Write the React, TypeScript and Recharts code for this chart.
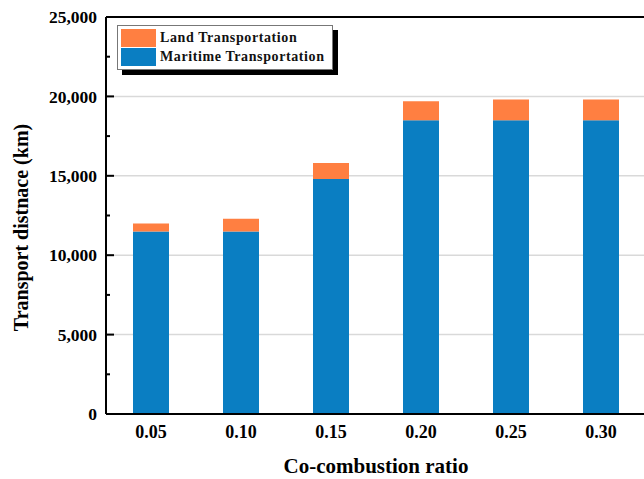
import { BarChart, Bar, XAxis, YAxis, ReferenceLine, CartesianGrid, Label } from "recharts";

const RATIOS = ["0.05", "0.10", "0.15", "0.20", "0.25", "0.30"];
const MARITIME_KM = [11500, 11500, 14800, 18500, 18500, 18500];
const LAND_KM = [500, 800, 1000, 1200, 1300, 1300];

const Y_TICKS = [0, 2500, 5000, 7500, 10000, 12500, 15000, 17500, 20000, 22500, 25000];
const GRID_VALUES = [5000, 10000, 15000, 20000];

const BLUE = "#0a7ec2";
const ORANGE = "#ff7f41";
const SERIF = '"Liberation Serif", "Times New Roman", serif';

// legend lists land first, the stack draws maritime at the bottom
const SERIES = [
  { key: "land", name: "Land Transportation", color: ORANGE },
  { key: "maritime", name: "Maritime Transportation", color: BLUE }
];

const data = RATIOS.map((ratio, i) => ({
  ratio,
  maritime: MARITIME_KM[i],
  land: LAND_KM[i]
}));

function YTick(props: any) {
  const { x, y, payload } = props;
  const major = payload.value % 5000 === 0;
  const axisX = x + 9;
  return (
    <g>
      <line x1={axisX} x2={axisX + (major ? 8 : 4)} y1={y} y2={y} stroke="#000" strokeWidth={2} />
      {major && (
        <text
          x={x}
          y={y}
          dy="0.35em"
          textAnchor="end"
          fontFamily={SERIF}
          fontWeight="bold"
          fontSize={17.5}
          fill="#000"
        >
          {payload.value.toLocaleString("en-US")}
        </text>
      )}
    </g>
  );
}

// vertical title, sitting a little below the plot's middle
function YTitle(props: any) {
  const { viewBox } = props;
  const cx = viewBox.x + 21;
  const cy = viewBox.y + viewBox.height / 2 + 12;
  return (
    <text
      x={cx}
      y={cy}
      dy="0.35em"
      transform={`rotate(-90, ${cx}, ${cy})`}
      textAnchor="middle"
      fontFamily={SERIF}
      fontWeight="bold"
      fontSize={20}
      fill="#000"
    >
      Transport distnace (km)
    </text>
  );
}

function LegendBox() {
  return (
    <div
      style={{
        position: "absolute",
        left: 117,
        top: 25,
        border: "1px solid #777",
        background: "#fff",
        boxShadow: "5px 5px 0 #000",
        padding: "2px 7px 2px 3px",
        fontFamily: SERIF,
        fontWeight: "bold",
        fontSize: 14,
        letterSpacing: 0.6,
        color: "#111"
      }}
    >
      {SERIES.map((s) => (
        <div key={s.key} style={{ display: "flex", alignItems: "center", height: 19.5 }}>
          <span style={{ width: 35, height: 18, background: s.color, marginRight: 4 }} />
          <span>{s.name}</span>
        </div>
      ))}
    </div>
  );
}

export default function App() {
  return (
    <div
      style={{
        position: "absolute",
        left: 0,
        top: 0,
        width: 644,
        height: 479,
        overflow: "hidden",
        background: "#fff"
      }}
    >
      <BarChart
        width={660}
        height={479}
        data={data}
        margin={{ top: 17, right: 14, left: 0, bottom: 0 }}
        barSize={36}
      >
        <CartesianGrid vertical={false} horizontalValues={GRID_VALUES} stroke="#d9d9d9" strokeWidth={1.5} />
        <XAxis
          dataKey="ratio"
          tickLine={false}
          axisLine={{ stroke: "#000", strokeWidth: 2 }}
          height={65}
          tickMargin={5}
          tick={{ fontFamily: SERIF, fontWeight: "bold", fontSize: 18, fill: "#000" }}
        >
          <Label
            value="Co-combustion ratio"
            position="insideBottom"
            offset={6}
            style={{ fontFamily: SERIF, fontWeight: "bold", fontSize: 21, fill: "#000" }}
          />
        </XAxis>
        <YAxis
          width={106}
          domain={[0, 25000]}
          ticks={Y_TICKS}
          interval={0}
          tickLine={false}
          tickSize={0}
          tickMargin={9}
          axisLine={{ stroke: "#000", strokeWidth: 2 }}
          tick={<YTick />}
        >
          <Label content={<YTitle />} />
        </YAxis>
        <ReferenceLine y={25000} stroke="#000" strokeWidth={2} />
        <Bar dataKey="maritime" name="Maritime Transportation" stackId="t" fill={BLUE} isAnimationActive={false} />
        <Bar dataKey="land" name="Land Transportation" stackId="t" fill={ORANGE} isAnimationActive={false} />
      </BarChart>
      <LegendBox />
    </div>
  );
}
